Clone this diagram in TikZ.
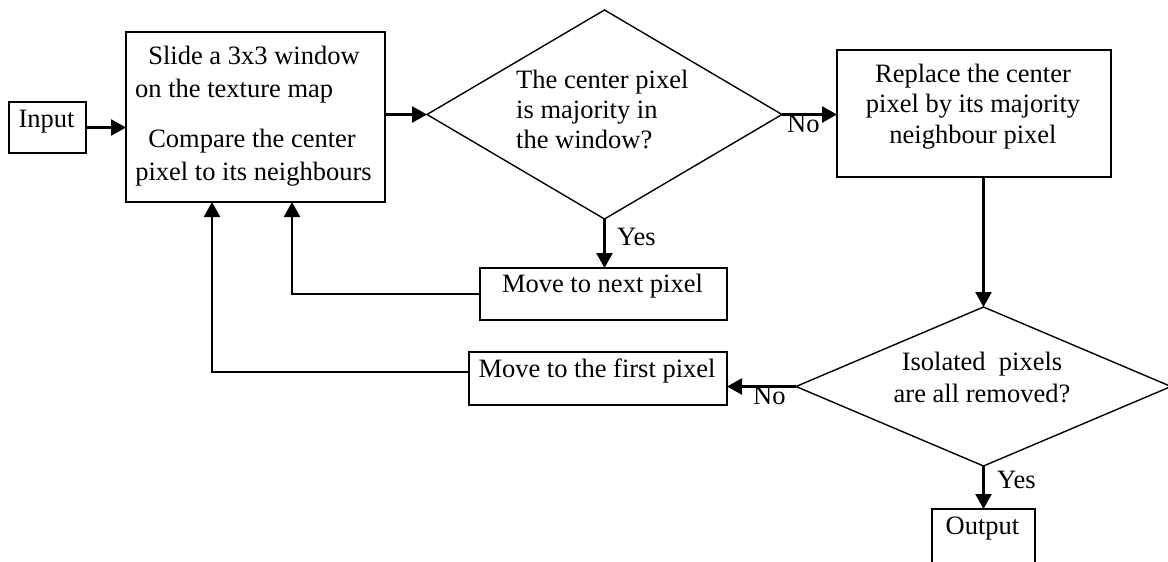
\documentclass[tikz,border=0pt]{standalone}
\usepackage{fontspec}
\setmainfont{Liberation Serif}
\usetikzlibrary{shapes.geometric,arrows.meta,calc}
\begin{document}
\begin{tikzpicture}[x=1pt,y=-1pt,
  box/.style={draw,line width=1.5pt,inner sep=0pt,outer sep=0pt},
  dia/.style={draw,diamond,line width=1.4pt,inner sep=0pt,outer sep=0pt},
  txt/.style={inner sep=0pt,anchor=base,font=\fontsize{26.5}{30}\selectfont},
  ltxt/.style={txt,anchor=base west},
  arr/.style={line width=2.5pt,-{Triangle[length=15pt,width=16pt]}}]
\clip (0,0) rectangle (1168,562);
\fill[white] (0,0) rectangle (1168,562);

% shapes
\node[box,minimum width=77pt,minimum height=51pt] (input) at (47.5,127.5) {};
\node[box,minimum width=259pt,minimum height=170pt] (main) at (255.5,117) {};
\node[dia,minimum width=355pt,minimum height=209pt] (d1) at (604.5,114.5) {};
\node[box,minimum width=274pt,minimum height=127pt] (replace) at (974,113.5) {};
\node[box,minimum width=247pt,minimum height=52pt] (next) at (603.5,294) {};
\node[box,minimum width=258pt,minimum height=53pt] (first) at (598,378.5) {};
\node[dia,minimum width=375pt,minimum height=159pt] (d2) at (983.5,386.5) {};
\node[box,minimum width=103pt,minimum height=72pt] (output) at (983.5,545) {};

% connectors
\coordinate (in1) at ($(main.south west)+(86,0)$);
\coordinate (in2) at ($(main.south west)+(166,0)$);
\draw[arr] (input.east) -- (input.east -| main.west);
\draw[arr] (d1.west -| main.east) -- (d1.west);
\draw[arr] (d1.east) -- (d1.east -| replace.west);
\draw[arr] (d1.south) -- (d1.south |- next.north);
\draw[arr] (next.west) -| (in2);
\draw[arr] ([yshift=6.5pt]first.west) -| (in1);
\draw[arr] (d2.north |- replace.south) -- (d2.north);
\draw[arr] (d2.west) -- (d2.west -| first.east);
\draw[arr] (d2.south) -- (d2.south |- output.north);

% texts
\node[txt] (tin) at (46.5,127) {Input};
\node[txt] (tm1) at (254,64) {Slide a 3x3 window};
\node[ltxt] (tm2) at (135,97) {on the texture map};
\node[txt] (tm3) at (252,147) {Compare the center};
\node[txt] (tm4) at (253.5,180) {pixel to its neighbours};
\node[ltxt] (td1a) at (516,88) {The center pixel};
\node[ltxt] (td1b) at (516,118) {is majority in};
\node[ltxt] (td1c) at (516,148) {the window?};
\node[ltxt] (no1) at (787,132) {No};
\node[txt] (tr1) at (973,82) {Replace the center};
\node[txt] (tr2) at (973,112) {pixel by its majority};
\node[txt] (tr3) at (973,143.5) {neighbour pixel};
\node[ltxt] (yes1) at (617,245) {Yes};
\node[txt] (tn) at (602.5,292) {Move to next pixel};
\node[txt] (tf) at (597,377) {Move to the first pixel};
\node[txt] (td2a) at (982,370) {Isolated\ \ pixels};
\node[txt] (td2b) at (982,402) {are all removed?};
\node[ltxt] (no2) at (753,404) {No};
\node[ltxt] (yes2) at (997,488) {Yes};
\node[txt] (tout) at (982.5,534) {Output};
\end{tikzpicture}
\end{document}
